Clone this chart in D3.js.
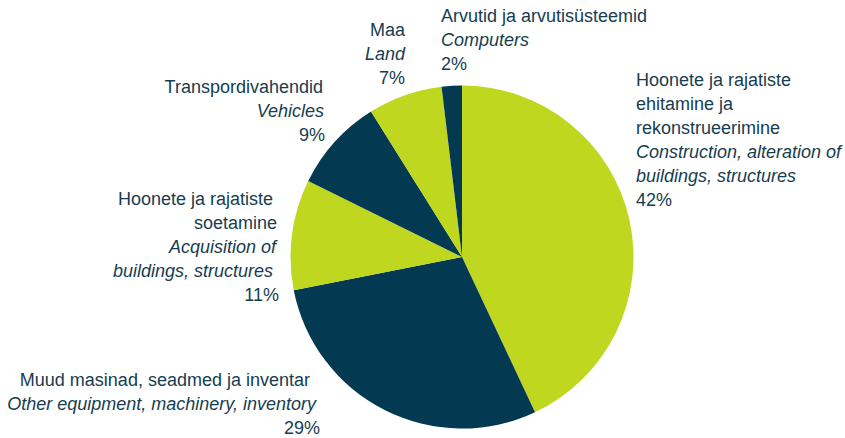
<!DOCTYPE html>
<meta charset="utf-8">
<style>
body { margin: 0; background: #fff; }
text { font-family: "Liberation Sans", Arial, sans-serif; font-size: 18px; fill: #163d50; }
.en { font-style: italic; }
</style>
<body>
<script src="https://d3js.org/d3.v7.min.js"></script>
<script>
// slices clockwise from 12 o'clock (shares)
var names = ["Hoonete ja rajatiste ehitamine ja rekonstrueerimine", "Muud masinad, seadmed ja inventar",
             "Hoonete ja rajatiste soetamine", "Transpordivahendid", "Maa", "Arvutid ja arvutisüsteemid"];
var namesEn = ["Construction, alteration of buildings, structures", "Other equipment, machinery, inventory",
               "Acquisition of buildings, structures", "Vehicles", "Land", "Computers"];
var values = [43.0, 28.9, 10.4, 8.8, 7.0, 1.9];
var pctLabels = ["42%", "29%", "11%", "9%", "7%", "2%"];
var colors = ["#bfd71e", "#033a52", "#bfd71e", "#033a52", "#bfd71e", "#033a52"];

// label lines per slice: [text, italic?]
var labelLines = [
  [["Hoonete ja rajatiste", 0], ["ehitamine ja", 0], ["rekonstrueerimine", 0], ["Construction, alteration of", 1], ["buildings, structures", 1]],
  [["Muud masinad, seadmed ja inventar", 0], ["Other equipment, machinery, inventory", 1]],
  [["Hoonete ja rajatiste", 0], ["soetamine", 0], ["Acquisition of", 1], ["buildings, structures", 1]],
  [["Transpordivahendid", 0], ["Vehicles", 1]],
  [["Maa", 0], ["Land", 1]],
  [["Arvutid ja arvutisüsteemid", 0], ["Computers", 1]]
];

var width = 845, height = 438;
var cx = 462, cy = 257, r = 171.5;

var svg = d3.select("body").append("svg")
    .attr("width", width)
    .attr("height", height);

var pie = d3.pie().sort(null).value(function(d) { return d; });
var arc = d3.arc().innerRadius(0).outerRadius(r);

var g = svg.append("g").attr("transform", "translate(" + cx + "," + cy + ")");

g.selectAll("path")
    .data(pie(values))
  .enter().append("path")
    .attr("d", arc)
    .attr("fill", function(d, i) { return colors[i]; });

// label anchor positions (x, first baseline, anchor) and per-line shifts
var labelPos = [
  {x: 636, y: 86, anchor: "start"},
  {x: 320, y: 386, anchor: "end", dx: [-10, -4, 0]},
  {x: 279, y: 205, anchor: "end", dx: [-6, -2, -3, -6, 0]},
  {x: 325, y: 93, anchor: "end", dx: [-2, -1, 0]},
  {x: 405, y: 36, anchor: "end"},
  {x: 441, y: 22, anchor: "start"}
];
var lineH = 24;

labelLines.forEach(function(lines, i) {
  var p = labelPos[i];
  var t = svg.append("text")
      .attr("text-anchor", p.anchor);
  lines.concat([[pctLabels[i], 0]]).forEach(function(l, j) {
    t.append("tspan")
      .attr("x", p.x + (p.dx ? p.dx[j] : 0))
      .attr("y", p.y + j * lineH)
      .attr("class", l[1] ? "en" : null)
      .text(l[0]);
  });
});
</script>
</body>
